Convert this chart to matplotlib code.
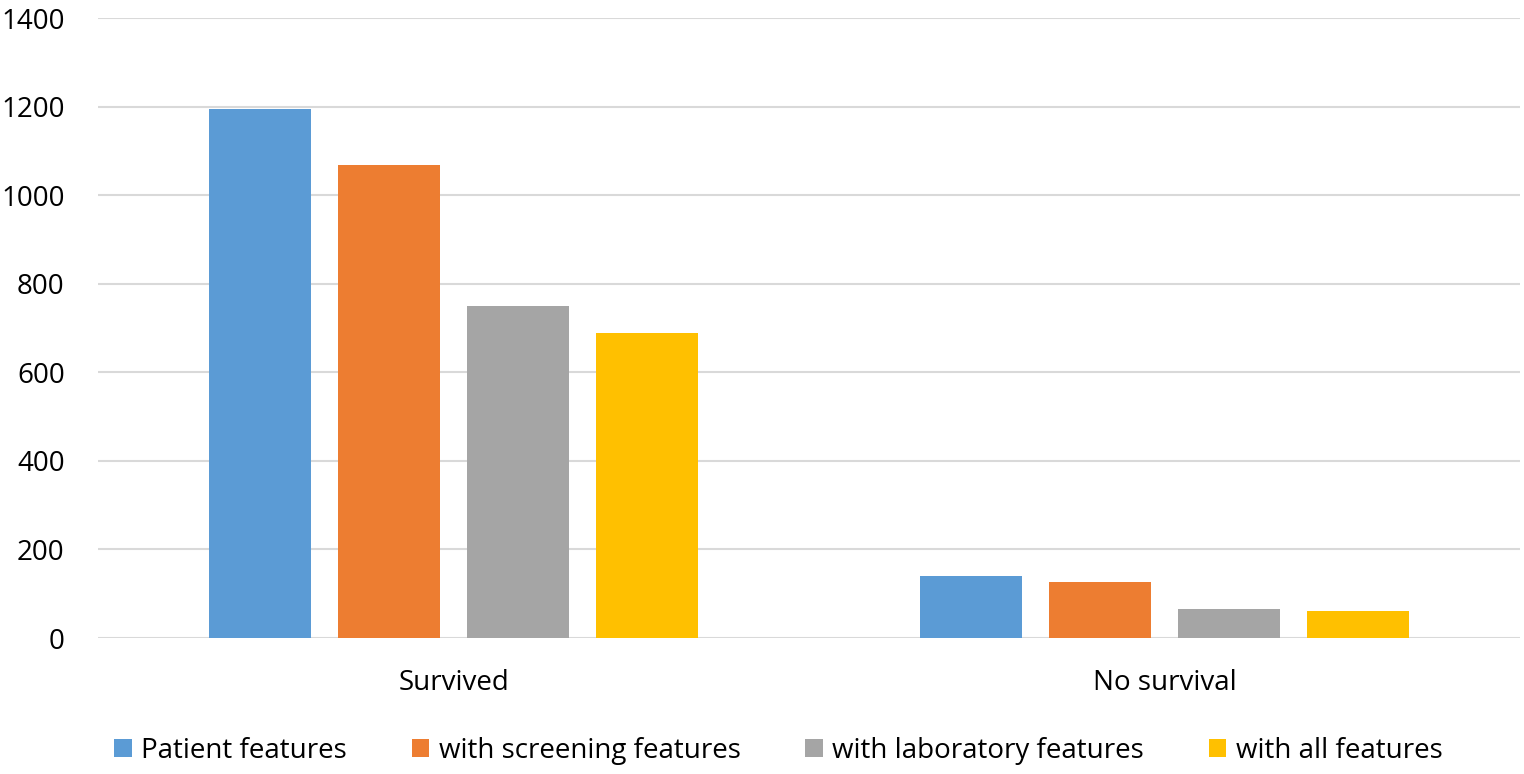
import matplotlib.pyplot as plt
import numpy as np

categories = ["Survived", "No survival"]
series_names = [
    "Patient features",
    "with screening features",
    "with laboratory features",
    "with all features",
]
series_values = [
    [1195, 139],
    [1069, 127],
    [750, 65],
    [689, 61],
]
series_colors = ["#5B9BD5", "#ED7D31", "#A5A5A5", "#FFC000"]
y_ticks = [0, 200, 400, 600, 800, 1000, 1200, 1400]


def main():
    plt.rcParams["font.family"] = ["Open Sans", "DejaVu Sans"]
    fig = plt.figure(figsize=(15.24, 7.74), dpi=100)
    ax = fig.add_axes((0.0643, 0.1757, 0.9331, 0.801))

    x = np.arange(len(categories))
    width = 0.1435
    step = 0.181
    for i, (name, values, color) in enumerate(
        zip(series_names, series_values, series_colors)
    ):
        ax.bar(
            x + (i - 1.5) * step,
            values,
            width=width,
            color=color,
            label=name,
            zorder=3,
        )

    ax.set_xlim(-0.5, len(categories) - 0.5)
    ax.set_ylim(0, 1400)
    ax.set_yticks(y_ticks)
    ax.set_xticks(x)
    ax.set_xticklabels(categories)
    ax.yaxis.grid(True, color="#D9D9D9", linewidth=1.5, zorder=0)
    ax.tick_params(axis="both", length=0, labelsize=20, colors="#000000")
    ax.tick_params(axis="y", pad=24)
    ax.tick_params(axis="x", pad=22)
    for spine in ax.spines.values():
        spine.set_visible(False)

    ax.legend(
        loc="lower center",
        bbox_to_anchor=(0.4785, -0.245),
        ncol=4,
        frameon=False,
        fontsize=20,
        handlelength=0.62,
        handleheight=0.62,
        handletextpad=0.35,
        columnspacing=2.33,
    )

    fig.savefig("out.png", dpi=100)


if __name__ == "__main__":
    main()
